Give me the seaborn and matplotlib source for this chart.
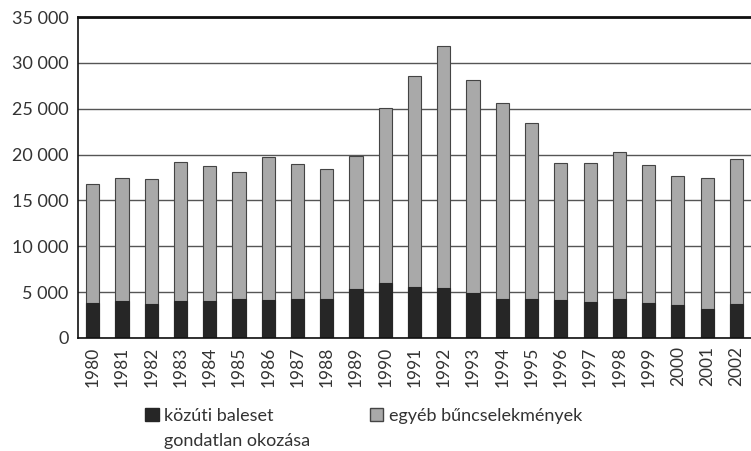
import numpy as np
import pandas as pd
import seaborn as sns
import matplotlib.pyplot as plt
from matplotlib.patches import Patch

years = [str(y) for y in range(1980, 2003)]
kozuti = [3800, 4000, 3700, 4000, 4000, 4300, 4100, 4300, 4300, 5300, 6000, 5600,
          5400, 4900, 4300, 4300, 4100, 3900, 4300, 3800, 3600, 3200, 3700]
osszes = [16800, 17500, 17300, 19200, 18800, 18100, 19700, 19000, 18400, 19900, 25100, 28600,
          31900, 28100, 25600, 23500, 19100, 19100, 20300, 18900, 17700, 17500, 19500]
labels = ["közúti baleset", "egyéb bűncselekmények"]
label2 = "gondatlan okozása"

df = pd.DataFrame({"ev": years, "kozuti": kozuti, "osszes": osszes})

sns.set_style("white")
plt.rcParams['font.family'] = ['Lato', 'DejaVu Sans']

fig = plt.figure(figsize=(7.51, 4.51), dpi=100)
ax = fig.add_axes([0.104, 0.2506, 0.896, 0.7114])

dark = "#262626"
grey = "#a9a9a9"

sns.barplot(data=df, x="ev", y="osszes", color=grey, width=0.45, ax=ax,
            edgecolor="#444444", linewidth=0.8, saturation=1)
sns.barplot(data=df, x="ev", y="kozuti", color=dark, width=0.45, ax=ax,
            edgecolor=dark, linewidth=0.8, saturation=1)

ax.set_xlim(-0.5, len(years) - 0.5)
ax.set_ylim(0, 35000)
ax.set_yticks(range(0, 35001, 5000))
ax.set_yticklabels(["0" if v == 0 else f"{v // 1000} 000" for v in range(0, 35001, 5000)],
                   fontsize=13, color="#333333")
ax.yaxis.grid(True, color="#555555", linewidth=1.0)
ax.set_axisbelow(True)

ax.set_xticks(range(len(years)))
ax.set_xticklabels(years, rotation=90, fontsize=12.5, color="#333333")
ax.set_xticks(np.arange(-0.5, len(years), 1.0), minor=True)
ax.tick_params(axis="x", which="major", length=0, pad=6)
ax.tick_params(axis="x", which="minor", length=5, width=1, color="#222222", direction="out")
ax.tick_params(axis="y", length=4, width=1, color="#222222", direction="out", pad=3)

ax.set_xlabel("")
ax.set_ylabel("")
for side in ["left", "bottom"]:
    ax.spines[side].set_color("#111111")
    ax.spines[side].set_linewidth(1.2)
ax.spines["top"].set_color("#111111")
ax.spines["top"].set_linewidth(2)
ax.spines["right"].set_visible(False)

handles = [Patch(facecolor=dark, edgecolor=dark), Patch(facecolor=grey, edgecolor="#444444")]
leg = fig.legend(handles, labels, loc="center left", bbox_to_anchor=(0.172, 0.078), ncol=2,
                 frameon=False, fontsize=13, handlelength=0.75, handleheight=0.75,
                 handletextpad=0.3, columnspacing=5.3, labelcolor="#333333")

# second line of the first legend label, under the first line
fig.canvas.draw()
bb = leg.get_texts()[0].get_window_extent().transformed(fig.transFigure.inverted())
fig.text(bb.x0, bb.y0 - 0.02, label2, fontsize=13, color="#333333", va="top", ha="left")

fig.savefig("out.png", dpi=100)
